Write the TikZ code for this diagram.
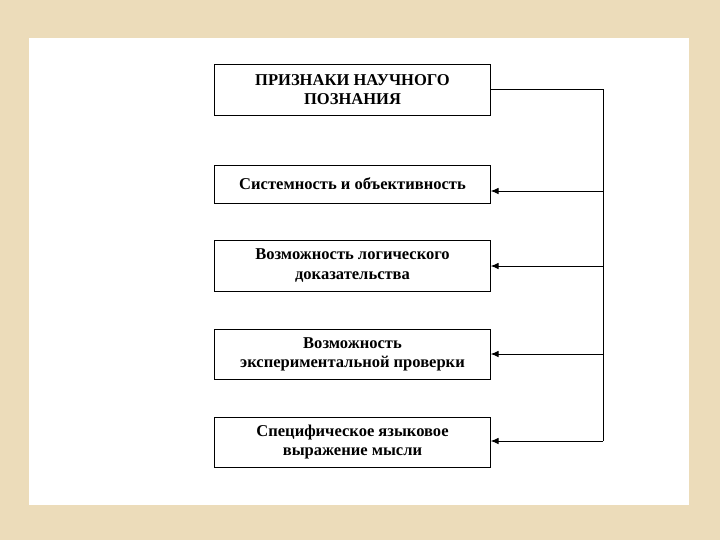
\documentclass[tikz,border=0pt]{standalone}
\usepackage{fontspec}
\setmainfont{Liberation Serif}
\usetikzlibrary{arrows.meta}
\definecolor{beige}{RGB}{236,220,186}
\tikzset{
  box/.style={draw=black, line width=0.75pt, fill=white, minimum width=206.5pt, align=center, font=\bfseries\fontsize{12.4}{14.3}\selectfont, inner sep=0pt},
  conn/.style={draw=black, line width=0.75pt},
  arr/.style={conn, -{Latex[length=6pt,width=5pt]}}
}
\begin{document}
\begin{tikzpicture}[x=0.75pt,y=-0.75pt]
\useasboundingbox (0,0) rectangle (720,540);
\fill[beige] (0,0) rectangle (720,540);
\fill[white] (29,38) rectangle (689,505);
\node[box, minimum height=38.25pt] (b1) at (352.5,89.5) {ПРИЗНАКИ НАУЧНОГО\\ПОЗНАНИЯ};
\node[box, minimum height=28.5pt] (b2) at (352.5,184) {Системность и объективность};
\node[box, minimum height=38.25pt] (b3) at (352.5,265.5) {Возможность логического\\доказательства};
\node[box, minimum height=37.5pt] (b4) at (352.5,354) {Возможность\\экспериментальной проверки};
\node[box, minimum height=37.5pt] (b5) at (352.5,442) {Специфическое языковое\\выражение мысли};
\coordinate (c1) at (603,89);
\coordinate (c2) at (603,191);
\coordinate (c3) at (603,266);
\coordinate (c4) at (603,354);
\coordinate (c5) at (603,441);
\draw[conn] (b1.east |- c1) -- (c1) -- (c5);
\draw[arr] (c2) -- (b2.east |- c2);
\draw[arr] (c3) -- (b3.east |- c3);
\draw[arr] (c4) -- (b4.east |- c4);
\draw[arr] (c5) -- (b5.east |- c5);
\end{tikzpicture}
\end{document}
